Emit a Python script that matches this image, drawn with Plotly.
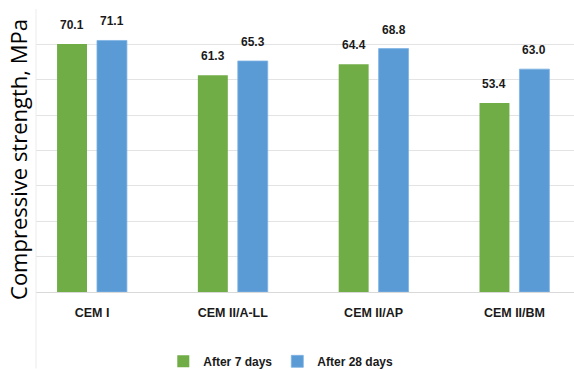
import plotly.graph_objects as go

# Cement types and compressive strength (MPa)
cements = ["CEM I", "CEM II/A-LL", "CEM II/AP", "CEM II/BM"]
strength_7d = [70.1, 61.3, 64.4, 53.4]
strength_28d = [71.1, 65.3, 68.8, 63.0]
y_ticks = [0, 10, 20, 30, 40, 50, 60, 70, 80]

GREEN = "#70AD47"
BLUE = "#5B9BD5"
BOLD = dict(family="Liberation Sans, Arial, sans-serif", size=12, color="#1a1a1a", weight="bold")
TICK = dict(BOLD, size=12.5)

fig = go.Figure()
fig.add_trace(go.Bar(name="After 7 days", x=cements, y=strength_7d,
                     marker=dict(color=GREEN, line=dict(width=0))))
fig.add_trace(go.Bar(name="After 28 days", x=cements, y=strength_28d,
                     marker=dict(color=BLUE, line=dict(width=0.8, color="#7fb3e3"))))

# value labels above each bar
for series, shift in ((strength_7d, -20), (strength_28d, 20)):
    for cat, val in zip(cements, series):
        fig.add_annotation(x=cat, y=val, xref="x", yref="y", text=f"{val:.1f}",
                           showarrow=False, xshift=shift, yshift=19,
                           yanchor="middle", font=BOLD)

# rotated axis title
fig.add_annotation(x=-0.0335, y=0.47, xref="paper", yref="paper",
                   text="Compressive strength, MPa", textangle=-90, showarrow=False,
                   xanchor="center", yanchor="middle",
                   font=dict(family="Open Sans, sans-serif", size=22, color="#000000"))

# faint left border of the chart area
fig.add_shape(type="line", xref="paper", yref="paper", x0=0, x1=0, y0=1, y1=-0.27,
              line=dict(color="#ececec", width=1))

fig.update_layout(
    width=574, height=369,
    margin=dict(l=36, r=0, t=9, b=77, autoexpand=False),
    paper_bgcolor="white", plot_bgcolor="white",
    barmode="group", bargap=0.433, bargroupgap=0.25,
    showlegend=True,
    legend=dict(orientation="h", x=0.455, xanchor="center", y=-0.245, yanchor="middle",
                font=BOLD, itemwidth=30, tracegroupgap=0),
    xaxis=dict(range=[-0.3976, 3.423], showgrid=False, showline=True,
               linecolor="#d9d9d9", linewidth=1, tickfont=TICK, ticks="",
               ticklabelstandoff=9, fixedrange=True),
    yaxis=dict(range=[0, 80], tickvals=y_ticks, showticklabels=False,
               showgrid=True, gridcolor="#e3e3e3", gridwidth=1, zeroline=False,
               showline=False, ticks="", fixedrange=True),
)

fig.write_html("out.html")
